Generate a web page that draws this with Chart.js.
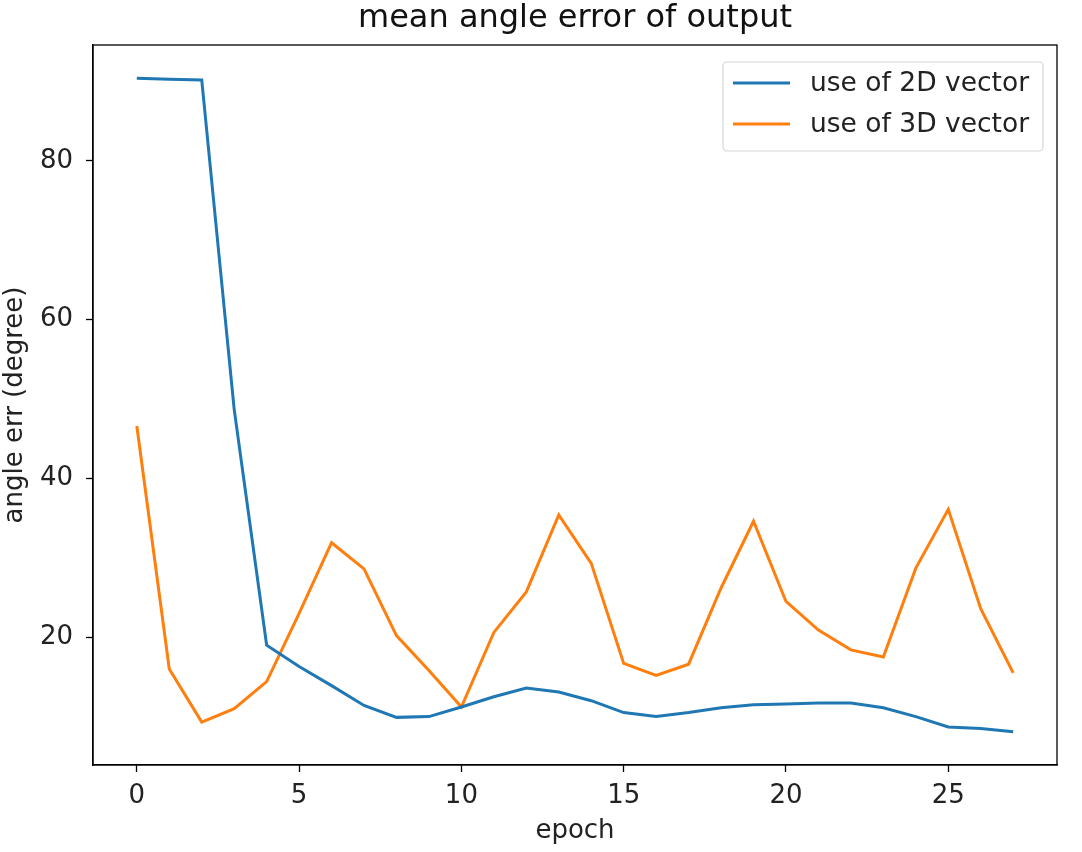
<!DOCTYPE html>
<html lang="en">
    <head>
        <meta charset="UTF-8" />
        <title>mean angle error of output</title>
        <script src="https://cdn.jsdelivr.net/npm/chart.js"></script>
        <style>
            body {
                margin: 0;
                background: #fff;
            }
        </style>
    </head>
    <body>
        <canvas id="errChart" width="1082" height="852"></canvas>

        <script>
            const epochs = [
                0, 1, 2, 3, 4, 5, 6, 7, 8, 9, 10, 11, 12, 13, 14, 15, 16, 17,
                18, 19, 20, 21, 22, 23, 24, 25, 26, 27,
            ];
            const err2D = [
                90.4, 90.3, 90.2, 48.7, 19.0, 16.3, 13.9, 11.4, 9.9, 10.0,
                11.2, 12.5, 13.6, 13.1, 12.0, 10.5, 10.0, 10.5, 11.1, 11.5,
                11.6, 11.7, 11.7, 11.1, 10.0, 8.7, 8.5, 8.1,
            ];
            const err3D = [
                46.6, 16.0, 9.3, 11.0, 14.4, 23.0, 31.9, 28.6, 20.2, 15.8,
                11.2, 20.6, 25.7, 35.4, 29.3, 16.7, 15.2, 16.6, 26.2, 34.6,
                24.5, 20.9, 18.4, 17.5, 28.7, 36.1, 23.6, 15.5,
            ];
            const xTicks = [0, 5, 10, 15, 20, 25];
            const yTicks = [20, 40, 60, 80];

            const titleText = "mean angle error of output";
            const seriesNames = ["use of 2D vector", "use of 3D vector"];
            const seriesColors = ["#1f77b4", "#ff7f0e"];
            const fontFamily = "DejaVu Sans";

            // title over the axes, top/right spines, matplotlib-like legend box
            const framePlugin = {
                id: "frame",
                afterDraw(chart) {
                    const { ctx, chartArea: a } = chart;
                    ctx.save();
                    ctx.strokeStyle = "#000";
                    ctx.lineWidth = 1.3;
                    ctx.strokeRect(a.left, a.top, a.right - a.left, a.bottom - a.top);

                    ctx.fillStyle = "#111";
                    ctx.font = `32px "${fontFamily}"`;
                    ctx.textAlign = "center";
                    ctx.textBaseline = "middle";
                    ctx.fillText(titleText, (a.left + a.right) / 2, 19);

                    // legend
                    const bx = 723, by = 62, bw = 320, bh = 89;
                    ctx.beginPath();
                    ctx.roundRect(bx, by, bw, bh, 4);
                    ctx.fillStyle = "rgba(255,255,255,0.8)";
                    ctx.fill();
                    ctx.strokeStyle = "#d6d6d6";
                    ctx.lineWidth = 1.2;
                    ctx.stroke();
                    ctx.font = `26.5px "${fontFamily}"`;
                    ctx.textAlign = "left";
                    seriesNames.forEach((name, i) => {
                        const y = 83 + i * 41;
                        ctx.strokeStyle = seriesColors[i];
                        ctx.lineWidth = 3;
                        ctx.beginPath();
                        ctx.moveTo(733, y);
                        ctx.lineTo(790, y);
                        ctx.stroke();
                        ctx.fillStyle = "#222";
                        ctx.fillText(name, 810, y + 1);
                    });
                    ctx.restore();
                },
            };

            const ctx = document.getElementById("errChart").getContext("2d");

            new Chart(ctx, {
                type: "line",
                data: {
                    labels: epochs,
                    datasets: [
                        {
                            label: seriesNames[0],
                            data: epochs.map((e, i) => ({ x: e, y: err2D[i] })),
                            borderColor: seriesColors[0],
                            borderWidth: 3,
                            pointRadius: 0,
                            tension: 0,
                        },
                        {
                            label: seriesNames[1],
                            data: epochs.map((e, i) => ({ x: e, y: err3D[i] })),
                            borderColor: seriesColors[1],
                            borderWidth: 3,
                            pointRadius: 0,
                            tension: 0,
                        },
                    ],
                },
                options: {
                    responsive: false,
                    animation: false,
                    layout: { padding: { left: 0, right: 25, top: 45, bottom: 0 } },
                    plugins: {
                        legend: { display: false }, // drawn by framePlugin
                        tooltip: { enabled: false },
                        title: { display: false },
                    },
                    scales: {
                        x: {
                            type: "linear",
                            min: -1.35,
                            max: 28.35,
                            afterBuildTicks(scale) {
                                scale.ticks = xTicks.map((v) => ({ value: v }));
                            },
                            afterFit(scale) {
                                scale.height = 87;
                            },
                            grid: {
                                drawOnChartArea: false,
                                drawTicks: true,
                                tickLength: 7,
                                tickWidth: 1.3,
                                tickColor: "#000",
                            },
                            border: { display: true, color: "#000", width: 1.3 },
                            ticks: {
                                color: "#222",
                                padding: 9,
                                maxRotation: 0,
                                font: { family: fontFamily, size: 26 },
                            },
                            title: {
                                display: true,
                                text: "epoch",
                                color: "#222",
                                font: { family: fontFamily, size: 26 },
                                padding: { top: 0, bottom: 5 },
                            },
                        },
                        y: {
                            min: 3.9,
                            max: 94.6,
                            afterBuildTicks(scale) {
                                scale.ticks = yTicks.map((v) => ({ value: v }));
                            },
                            afterFit(scale) {
                                scale.width = 93;
                            },
                            grid: {
                                drawOnChartArea: false,
                                drawTicks: true,
                                tickLength: 7,
                                tickWidth: 1.3,
                                tickColor: "#000",
                            },
                            border: { display: true, color: "#000", width: 1.3 },
                            ticks: {
                                color: "#222",
                                padding: 13,
                                font: { family: fontFamily, size: 26 },
                            },
                            title: {
                                display: true,
                                text: "angle err (degree)",
                                color: "#222",
                                font: { family: fontFamily, size: 26 },
                                padding: { top: 0, bottom: 0 },
                            },
                        },
                    },
                },
                plugins: [framePlugin],
            });
        </script>
    </body>
</html>
